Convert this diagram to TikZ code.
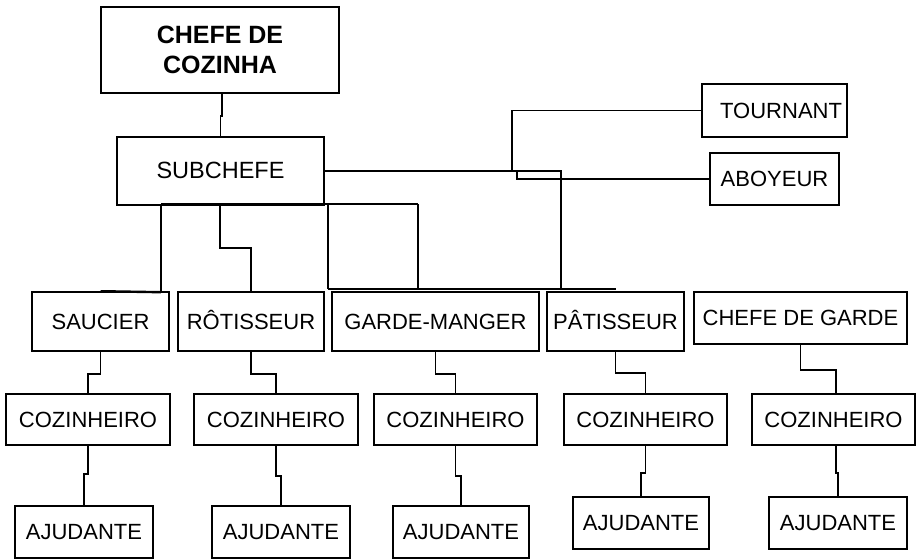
\documentclass[tikz,border=0pt]{standalone}
\usepackage{fontspec}
\setmainfont{Liberation Sans}
\begin{document}
\begin{tikzpicture}[x=1pt,y=-1pt,
  box/.style={draw,line width=1.6pt,inner sep=0pt,font=\fontsize{22}{26}\selectfont,text height=15.8pt,text depth=0pt},
  conn/.style={line width=1.6pt},
  bus/.style={line width=2.4pt}]
\useasboundingbox (0,0) rectangle (916,559);
% top
\node[draw,line width=1.6pt,inner sep=0pt,minimum width=238,minimum height=86,align=center,font=\fontsize{25}{30}\selectfont\bfseries] (chefe) at (220,50) {CHEFE DE\\COZINHA};
\node[box,minimum width=207,minimum height=68,font=\fontsize{23.5}{28}\selectfont] (subchefe) at (220.5,171) {SUBCHEFE};
\node[box,minimum width=145,minimum height=53,text width=135,align=right] (tournant) at (774.5,110.5) {TOURNANT};
\node[box,minimum width=129,minimum height=52] (aboyeur) at (774.5,179) {ABOYEUR};
% row 2
\node[box,minimum width=137,minimum height=59] (saucier) at (100.5,321.5) {SAUCIER};
\node[box,minimum width=146,minimum height=59] (rotisseur) at (251,321.5) {RÔTISSEUR};
\node[box,minimum width=207,minimum height=59] (garde) at (435.5,321.5) {GARDE-MANGER};
\node[box,minimum width=137,minimum height=59] (patisseur) at (615.5,321.5) {PÂTISSEUR};
\node[box,minimum width=213,minimum height=52] (chefegarde) at (800.5,318) {CHEFE DE GARDE};
% row 3
\node[box,minimum width=164,minimum height=51] (coz1) at (88,419.5) {COZINHEIRO};
\node[box,minimum width=164,minimum height=51] (coz2) at (276,419.5) {COZINHEIRO};
\node[box,minimum width=163,minimum height=51] (coz3) at (455.5,419.5) {COZINHEIRO};
\node[box,minimum width=163,minimum height=51] (coz4) at (645.5,419.5) {COZINHEIRO};
\node[box,minimum width=163,minimum height=51] (coz5) at (833.5,419.5) {COZINHEIRO};
% row 4
\node[box,minimum width=138,minimum height=52] (aj1) at (84,532) {AJUDANTE};
\node[box,minimum width=138,minimum height=52] (aj2) at (281,532) {AJUDANTE};
\node[box,minimum width=136,minimum height=52] (aj3) at (461,532) {AJUDANTE};
\node[box,minimum width=136,minimum height=52] (aj4) at (641,523) {AJUDANTE};
\node[box,minimum width=138,minimum height=52] (aj5) at (838,523) {AJUDANTE};
% connectors from top
\draw[conn] ([xshift=2]chefe.south) -- ++(0,22) -| (subchefe.north);
\coordinate (busL) at (161,204);
\coordinate (busR) at (418,204);
\coordinate (busM) at (328,204);
\coordinate (busRot) at (220,204);
\coordinate (lowL) at (328,289);
\coordinate (pvert) at (561,171);
\coordinate (tj) at (512,171);
\coordinate (aj) at (517,171);
\draw[conn] (busL) -- (busR);
\draw[conn] (busL) -- (busL |- saucier.north);
\draw[bus] (saucier.north) -- ([yshift=-1]busL |- saucier.north);
\draw[conn] (busRot) -- (220,248) -| (rotisseur.north);
\draw[conn] (busM) -- (lowL);
\draw[conn] (busR) -- (busR |- lowL);
\draw[bus] (lowL) -- (lowL -| patisseur.north);
\draw[conn] (subchefe.east) -- (pvert) -- (pvert |- lowL);
\draw[conn] (tj) |- (tournant.west);
\draw[conn] (aj) |- (aboyeur.west);
% row 2 -> row 3
\draw[conn] (saucier.south) -- ++(0,22) -| (coz1.north);
\draw[conn] (rotisseur.south) -- ++(0,22) -| (coz2.north);
\draw[conn] (garde.south) -- ++(0,22) -| (coz3.north);
\draw[conn] (patisseur.south) -- ++(0,21) -| (coz4.north);
\draw[conn] (chefegarde.south) -- ++(0,25) -| ([xshift=2.5]coz5.north);
% row 3 -> row 4
\draw[conn] (coz1.south) -- ++(0,28) -| (aj1.north);
\draw[conn] (coz2.south) -- ++(0,30) -| (aj2.north);
\draw[conn] (coz3.south) -- ++(0,30) -| (aj3.north);
\draw[conn] (coz4.south) -- ++(0,27) -| (aj4.north);
\draw[conn] ([xshift=2.5]coz5.south) -- ++(0,27) -| (aj5.north);
\end{tikzpicture}
\end{document}
